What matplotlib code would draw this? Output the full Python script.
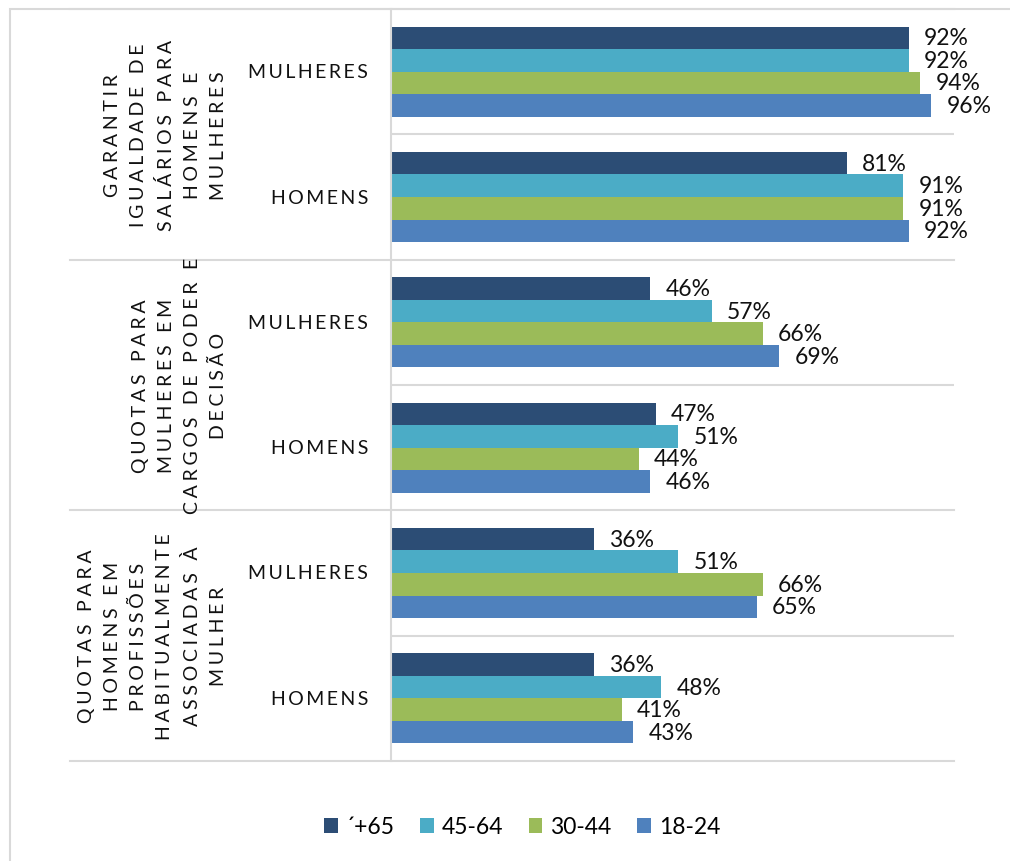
import matplotlib
matplotlib.use('Agg')
import matplotlib.pyplot as plt
from matplotlib.patches import Patch, Rectangle
import numpy as np

plt.rcParams['font.family'] = ['Lato', 'DejaVu Sans']

# dados (%), ordem: cada categoria -> MULHERES, HOMENS
categorias = ['GARANTIR\nIGUALDADE DE\nSALÁRIOS PARA\nHOMENS E\nMULHERES',
              'QUOTAS PARA\nMULHERES EM\nCARGOS DE PODER E\nDECISÃO',
              'QUOTAS PARA\nHOMENS EM\nPROFISSÕES\nHABITUALMENTE\nASSOCIADAS À\nMULHER']
generos = ['MULHERES', 'HOMENS']
faixas = ['´+65', '45-64', '30-44', '18-24']
v_65 = [92, 81, 46, 47, 36, 36]
v_45 = [92, 91, 57, 51, 51, 48]
v_30 = [94, 91, 66, 44, 66, 41]
v_18 = [96, 92, 69, 46, 65, 43]
cores = ['#2C4D75', '#4BACC6', '#9BBB59', '#4F81BD']

grey = '#D9D9D9'


def spaced(s, sep='\u2009'):
    # imita o espaçamento entre letras do Excel
    return '\n'.join(sep.join(line) for line in s.split('\n'))


W, H = 1010, 862
fig = plt.figure(figsize=(W / 100, H / 100), dpi=100)
ax = fig.add_axes([391 / W, 1 - 762 / H, 563 / W, 752 / H])

n = len(v_65)
pos = np.arange(n) + 0.5
h = 0.18
series = [v_65, v_45, v_30, v_18]
for k, (vals, c) in enumerate(zip(series, cores)):
    y = pos + (k - 1.5) * h
    ax.barh(y, vals, height=h, color=c)
    for yy, v in zip(y, vals):
        ax.annotate(f'{v}%', (v, yy), xytext=(11, 0), textcoords='offset points',
                    ha='left', va='center', fontsize=16.5, color='#111111')

ax.set_xlim(0, 100)
ax.set_ylim(n, 0)
ax.set_xticks([])
ax.set_yticks([])
for s in ['top', 'right', 'bottom']:
    ax.spines[s].set_visible(False)
ax.spines['left'].set_color(grey)
ax.spines['left'].set_linewidth(1.5)

# linhas separadoras
x_ext = -(391 - 70) / 563
for y in range(0, n + 1, 2):
    ax.axhline(y, xmin=x_ext, xmax=1, clip_on=False, color=grey, lw=1.5)
for y in range(1, n, 2):
    ax.axhline(y, xmin=0, xmax=1, color=grey, lw=1.5)

tr = ax.get_yaxis_transform()
for i in range(n):
    ax.text(-23 / 563, pos[i], spaced(generos[i % 2]), transform=tr,
            ha='right', va='center', fontsize=14, color='#111111')
for j, cat in enumerate(categorias):
    ax.text((227 - 391) / 563, 2 * j + 1, spaced(cat, '\u2009\u200a'), transform=tr,
            rotation=90, ha='right', va='center', multialignment='center',
            linespacing=1.65, fontsize=14, color='#111111')

# moldura do gráfico
fig.add_artist(Rectangle((10 / W, -0.1), 1.2, 1.1 - 10 / H, transform=fig.transFigure,
                         fill=False, edgecolor=grey, lw=1.5))

handles = [Patch(facecolor=c) for c in cores]
fig.legend(handles, faixas, loc='center', bbox_to_anchor=(0.517, 1 - 828 / H), ncol=4,
           frameon=False, fontsize=16.5, handlelength=0.6, handleheight=0.6,
           handletextpad=0.35, columnspacing=1.1)

fig.savefig('out.png', dpi=100)
